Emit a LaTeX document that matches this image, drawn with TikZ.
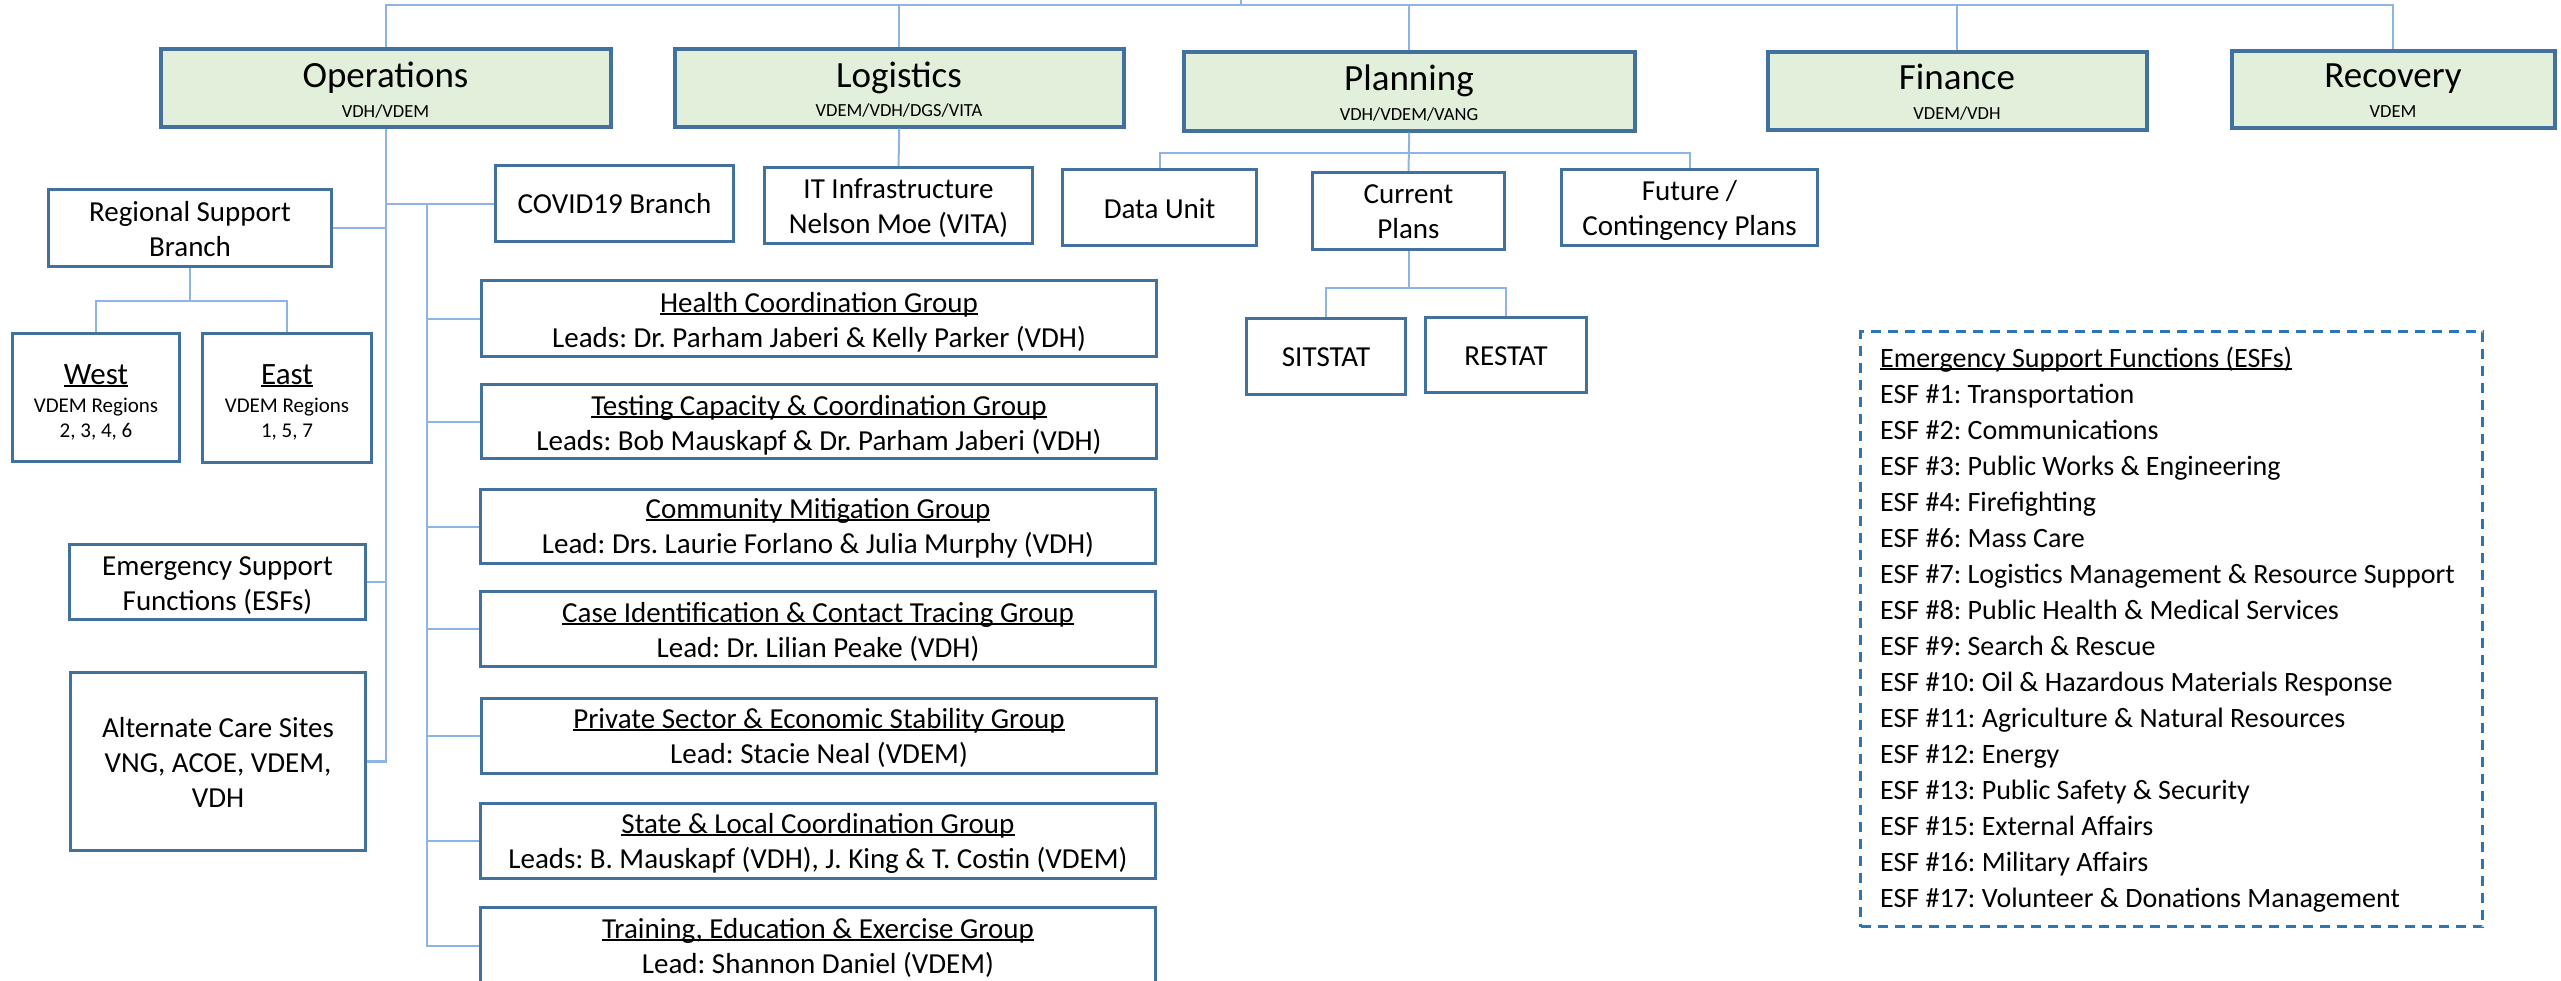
\documentclass[tikz,border=0pt]{standalone}
\usepackage{fontspec}
\setmainfont{Carlito}
\usetikzlibrary{calc}
\definecolor{boxline}{HTML}{41719C}
\definecolor{boxfill}{HTML}{E2EFDA}
\definecolor{connc}{HTML}{8DB4E2}
\definecolor{esfdash}{HTML}{2E75B6}
\newsavebox\ulbox
\newcommand\ulx[1]{\sbox\ulbox{#1}\rlap{\rule[-0.09em]{\wd\ulbox}{0.06em}}\usebox\ulbox}
\newcommand\mlines[2]{\begin{tabular}[t]{@{}#1@{}}#2\end{tabular}}
\newcommand\fs[2]{\fontsize{#1}{#2}\selectfont}
\newcommand\placebox[6]{\node[#1, minimum width={#4-#2-3}, minimum height={#5-#3-3}] (#6) at (#2,#3) {};}
\frenchspacing
\begin{document}
\frenchspacing
\begin{tikzpicture}[x=1pt,y=-1pt,
  boxA/.style={draw=boxline, line width=3.5pt, fill=boxfill, inner sep=0pt, anchor=north west},
  boxB/.style={draw=boxline, line width=3pt, fill=white, inner sep=0pt, anchor=north west},
  esfbox/.style={draw=esfdash, line width=3pt, dash pattern=on 10pt off 7pt, inner sep=0pt, anchor=north west},
  conn/.style={draw=connc, line width=2pt},
  lbl/.style={inner sep=0pt, anchor=base, text=black},
  body/.style={lbl, font=\fs{29}{35}},
  ttl/.style={lbl, font=\fs{37}{40}},
  sub/.style={lbl, font=\fs{18.5}{22}}]
\useasboundingbox (0,0) rectangle (2561,980);

% level 1
\placebox{boxA}{159}{47}{612}{128}{ops}
\placebox{boxA}{673}{47}{1125}{128}{log}
\placebox{boxA}{1182}{50}{1636}{132}{plan}
\placebox{boxA}{1766}{50}{2148}{131}{fin}
\placebox{boxA}{2230}{49}{2556}{129}{rec}
\node[ttl] (ops-t) at (385.5,87) {Operations};
\node[sub] (ops-s) at (385.5,117) {VDH/VDEM};
\node[ttl] (log-t) at (899,87) {Logistics};
\node[sub] (log-s) at (899,116) {VDEM/VDH/DGS/VITA};
\node[ttl] (plan-t) at (1409,90) {Planning};
\node[sub] (plan-s) at (1409,120) {VDH/VDEM/VANG};
\node[ttl] (fin-t) at (1957,89) {Finance};
\node[sub] (fin-s) at (1957,119) {VDEM/VDH};
\node[ttl] (rec-t) at (2393,87) {Recovery};
\node[sub] (rec-s) at (2393,117) {VDEM};

% operations side
\placebox{boxB}{47}{188}{333}{268}{reg}
\node[body] (reg-t) at (190,221) {\mlines{c}{Regional Support\\Branch}};
\placebox{boxB}{11}{332}{181}{463}{west}
\node[lbl, font=\fs{31}{35}] (west-t) at (96,384) {\ulx{West}};
\node[lbl, font=\fs{21}{25}] (west-r) at (96,412) {\mlines{c}{VDEM Regions\\2, 3, 4, 6}};
\placebox{boxB}{201}{332}{373}{464}{east}
\node[lbl, font=\fs{31}{35}] (east-t) at (287,384) {\ulx{East}};
\node[lbl, font=\fs{21}{25}] (east-r) at (287,412) {\mlines{c}{VDEM Regions\\1, 5, 7}};
\placebox{boxB}{68}{543}{367}{621}{esfb}
\node[body] (esfb-t) at (217.5,575) {\mlines{c}{Emergency Support\\Functions (ESFs)}};
\placebox{boxB}{69}{671}{367}{852}{alt}
\node[body] (alt-t) at (218,737) {\mlines{c}{Alternate Care Sites\\VNG, ACOE, VDEM,\\VDH}};
\placebox{boxB}{494}{164}{735}{243}{covid}
\node[body] (covid-t) at (614.5,213) {COVID19 Branch};

% groups
\placebox{boxB}{480}{279}{1158}{358}{health}
\node[body] (health-t) at (819,312) {\mlines{c}{\ulx{Health Coordination Group}\\Leads: Dr. Parham Jaberi \& Kelly Parker (VDH)}};
\placebox{boxB}{480}{383}{1158}{460}{test}
\node[body] (test-t) at (819,415) {\mlines{c}{\ulx{Testing Capacity \& Coordination Group}\\Leads: Bob Mauskapf \& Dr. Parham Jaberi (VDH)}};
\placebox{boxB}{479}{488}{1157}{565}{comm}
\node[body] (comm-t) at (818,518) {\mlines{c}{\ulx{Community Mitigation Group}\\Lead: Drs. Laurie Forlano \& Julia Murphy (VDH)}};
\placebox{boxB}{479}{590}{1157}{668}{case}
\node[body] (case-t) at (818,622) {\mlines{c}{\ulx{Case Identification \& Contact Tracing Group}\\Lead: Dr. Lilian Peake (VDH)}};
\placebox{boxB}{480}{697}{1158}{775}{priv}
\node[body] (priv-t) at (819,728) {\mlines{c}{\ulx{Private Sector \& Economic Stability Group}\\Lead: Stacie Neal (VDEM)}};
\placebox{boxB}{479}{802}{1157}{880}{state}
\node[body] (state-t) at (818,833) {\mlines{c}{\ulx{State \& Local Coordination Group}\\Leads: B. Mauskapf (VDH), J. King \& T. Costin (VDEM)}};
\placebox{boxB}{479}{906}{1157}{985}{train}
\node[body] (train-t) at (818,938) {\mlines{c}{\ulx{Training, Education \& Exercise Group}\\Lead: Shannon Daniel (VDEM)}};

% logistics / planning
\placebox{boxB}{763}{166}{1034}{245}{it}
\node[body] (it-t) at (898.5,198) {\mlines{c}{IT Infrastructure\\Nelson Moe (VITA)}};
\placebox{boxB}{1061}{168}{1258}{247}{data}
\node[body] (data-t) at (1159.5,218) {Data Unit};
\placebox{boxB}{1311}{171}{1506}{251}{cur}
\node[body] (cur-t) at (1408.5,203) {\mlines{c}{Current\\Plans}};
\placebox{boxB}{1560}{168}{1819}{247}{fut}
\node[body] (fut-t) at (1689.5,200) {\mlines{c}{Future /\\Contingency Plans}};
\placebox{boxB}{1245}{317}{1407}{396}{sit}
\node[body] (sit-t) at (1326,366) {SITSTAT};
\placebox{boxB}{1424}{316}{1588}{394}{res}
\node[body] (res-t) at (1506,365) {RESTAT};

% ESF legend
\placebox{esfbox}{1859}{330}{2484}{928}{esf}
\node[lbl, anchor=base west, font=\fs{28}{36}] (esf-t) at (1880,367) {\mlines{l}{%
\ulx{Emergency Support Functions (ESFs)}\\
ESF \#1: Transportation\\
ESF \#2: Communications\\
ESF \#3: Public Works \& Engineering\\
ESF \#4: Firefighting\\
ESF \#6: Mass Care\\
ESF \#7: Logistics Management \& Resource Support\\
ESF \#8: Public Health \& Medical Services\\
ESF \#9: Search \& Rescue\\
ESF \#10: Oil \& Hazardous Materials Response\\
ESF \#11: Agriculture \& Natural Resources\\
ESF \#12: Energy\\
ESF \#13: Public Safety \& Security\\
ESF \#15: External Affairs\\
ESF \#16: Military Affairs\\
ESF \#17: Volunteer \& Donations Management}};

% connectors
\coordinate (root) at (1241,0);
\coordinate (bus) at (1241,5);
\draw[conn] (root) -- (bus);
\draw[conn] (ops.north) |- (bus) -| (rec.north);
\foreach \n in {log,plan,fin} \draw[conn] (\n.north) -- (\n.north |- bus);

\draw[conn, line width=2.5pt] (ops.south) |- (alt.east);
\draw[conn] (reg.east) -- (reg.east -| ops.south);
\draw[conn] (esfb.east) -- (esfb.east -| ops.south);
\draw[conn] (covid.west) -- (covid.west -| ops.south);
\coordinate (gx) at (427,0);
\draw[conn] (gx |- covid.west) |- (train.west);
\foreach \g in {health,test,comm,case,priv,state} \draw[conn] (\g.west) -- (\g.west -| gx);

\path (reg.south) ++(0,33) coordinate (rb);
\draw[conn] (reg.south) -- (rb);
\draw[conn] (west.north) |- (rb) -| (east.north);

\draw[conn] (log.south) -- (it.north);

\path (plan.south) ++(0,20) coordinate (pb);
\draw[conn] (plan.south) -- (cur.north);
\draw[conn] (data.north) |- (pb) -| (fut.north);

\path (cur.south) ++(0,37) coordinate (cb);
\draw[conn] (cur.south) -- (cb);
\draw[conn] (sit.north) |- (cb) -| (res.north);
\end{tikzpicture}
\end{document}
